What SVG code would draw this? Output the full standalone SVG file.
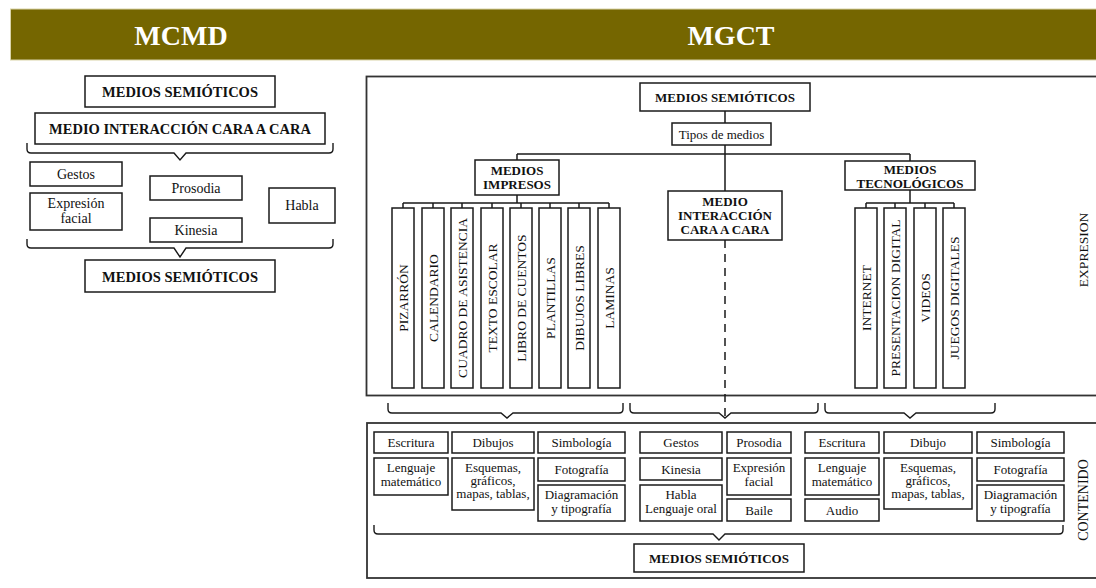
<svg xmlns="http://www.w3.org/2000/svg" width="1096" height="588" viewBox="0 0 1096 588" font-family="'Liberation Serif', 'DejaVu Serif', serif">
<style>
text{font-family:'Liberation Serif','DejaVu Serif',serif;fill:#111;}
.b{font-weight:bold;font-size:14.5px;text-anchor:middle;}
.bs{font-weight:bold;font-size:13px;text-anchor:middle;}
.r{font-size:14px;text-anchor:middle;}
.s{font-size:13px;text-anchor:middle;}
.v{font-size:13.5px;text-anchor:middle;}
.hd{font-weight:bold;font-size:28px;fill:#fff;text-anchor:middle;}
.box{fill:#fff;stroke:#1a1a1a;stroke-width:1.5;}
.frame{fill:none;stroke:#333;stroke-width:1.8;}
.ln{fill:none;stroke:#1a1a1a;stroke-width:1.5;}
.br{fill:none;stroke:#1a1a1a;stroke-width:1.4;}
</style>
<rect width="1096" height="588" fill="#fff"/>
<g id="header">
<rect x="10.5" y="9" width="1090" height="51" fill="#756600" stroke="#d9d3a8" stroke-width="1"/>
<text class="hd" x="181" y="45">MCMD</text>
<text class="hd" x="731" y="45">MGCT</text>
</g>
<g id="frames">
<rect class="frame" x="366.5" y="76.5" width="740" height="319"/>
<rect class="frame" x="367" y="423" width="740" height="155"/>
<text class="v" transform="translate(1083,250) rotate(-90)" dy="0.35em">EXPRESION</text>
<text class="v" style="font-size:14px" transform="translate(1083,500) rotate(-90)" dy="0.35em">CONTENIDO</text>
</g>
<g id="connectors">
<path class="br" d="M27 143 V149 Q27 153 31 153 H174 L180 160 L186 153 H329 Q333 153 333 149 V143"/>
<path class="br" d="M27 239 V244 Q27 248 31 248 H174 L180 257 L186 248 H329 Q333 248 333 244 V239"/>
<path class="ln" d="M725 111 V123 M725 145 V191 M517 154 H910 M517 154 V160 M910 154 V161"/>
<path class="ln" d="M517 195 V203 M403 203 H609 M403 203 V208 M433 203 V208 M462 203 V208 M492 203 V208 M521 203 V208 M550 203 V208 M579 203 V208 M609 203 V208"/>
<path class="ln" d="M910 190 V203 M866 203 H954 M866 203 V208 M895 203 V208 M925 203 V208 M954 203 V208"/>
<path class="ln" d="M725 240 V418" stroke-dasharray="8 6"/>
<path class="br" d="M388 403 V409 Q388 413 392 413 H501 L507 418 L513 413 H619 Q623 413 623 409 V403"/>
<path class="br" d="M630 403 V409 Q630 413 634 413 H719 L725 418 L731 413 H814 Q818 413 818 409 V403"/>
<path class="br" d="M825 403 V409 Q825 413 829 413 H904 L910 418 L916 413 H991 Q995 413 995 409 V403"/>
<path class="br" d="M374 525 V530 Q374 534 378 534 H713 L719 540 L725 534 H1059 Q1063 534 1063 530 V525"/>
</g>
<g id="mcmd-semioticos-top"><rect class="box" x="85" y="76" width="190" height="31"/><text class="b" x="180" y="97">MEDIOS SEMIÓTICOS</text></g>
<g id="mcmd-interaccion"><rect class="box" x="35" y="113" width="290" height="31"/><text class="b" x="180" y="134">MEDIO INTERACCIÓN CARA A CARA</text></g>
<g id="mcmd-gestos"><rect class="box" x="30" y="162" width="92" height="24"/><text class="r" x="76" y="179">Gestos</text></g>
<g id="mcmd-expresion"><rect class="box" x="30" y="193" width="92" height="37"/><text class="r" x="76" y="208">Expresión</text><text class="r" x="76" y="223">facial</text></g>
<g id="mcmd-prosodia"><rect class="box" x="150" y="176" width="92" height="24"/><text class="r" x="196" y="193">Prosodia</text></g>
<g id="mcmd-kinesia"><rect class="box" x="150" y="218" width="92" height="24"/><text class="r" x="196" y="235">Kinesia</text></g>
<g id="mcmd-habla"><rect class="box" x="269" y="188" width="66" height="35"/><text class="r" x="302" y="210">Habla</text></g>
<g id="mcmd-semioticos-bottom"><rect class="box" x="85" y="260" width="190" height="32"/><text class="b" x="180" y="281.5">MEDIOS SEMIÓTICOS</text></g>
<g id="mgct-semioticos"><rect class="box" x="640" y="83" width="170" height="28"/><text class="bs" x="725" y="101.5">MEDIOS SEMIÓTICOS</text></g>
<g id="tipos"><rect class="box" x="672" y="123" width="99" height="22"/><text class="s" x="721.5" y="138.5">Tipos de medios</text></g>
<g id="impresos"><rect class="box" x="475" y="160" width="84" height="35"/><text class="bs" x="517" y="175">MEDIOS</text><text class="bs" x="517" y="189">IMPRESOS</text></g>
<g id="interaccion"><rect class="box" x="668" y="191" width="114" height="49"/><text class="bs" x="725" y="206">MEDIO</text><text class="bs" x="725" y="220">INTERACCIÓN</text><text class="bs" x="725" y="234">CARA A CARA</text></g>
<g id="tecnologicos"><rect class="box" x="845" y="161" width="130" height="29"/><text class="bs" x="910" y="174">MEDIOS</text><text class="bs" x="910" y="188">TECNOLÓGICOS</text></g>
<g id="pizarron"><rect class="box" x="392" y="208" width="22" height="180"/><text class="v" transform="translate(403,298) rotate(-90)" dy="0.35em">PIZARRÓN</text></g>
<g id="calendario"><rect class="box" x="422" y="208" width="22" height="180"/><text class="v" transform="translate(433,298) rotate(-90)" dy="0.35em">CALENDARIO</text></g>
<g id="cuadro"><rect class="box" x="451" y="208" width="22" height="180"/><text class="v" transform="translate(462,298) rotate(-90)" dy="0.35em">CUADRO DE ASISTENCIA</text></g>
<g id="texto"><rect class="box" x="481" y="208" width="22" height="180"/><text class="v" transform="translate(492,298) rotate(-90)" dy="0.35em">TEXTO ESCOLAR</text></g>
<g id="libro"><rect class="box" x="510" y="208" width="22" height="180"/><text class="v" transform="translate(521,298) rotate(-90)" dy="0.35em">LIBRO DE CUENTOS</text></g>
<g id="plantillas"><rect class="box" x="539" y="208" width="22" height="180"/><text class="v" transform="translate(550,298) rotate(-90)" dy="0.35em">PLANTILLAS</text></g>
<g id="dibujos-libres"><rect class="box" x="568" y="208" width="22" height="180"/><text class="v" transform="translate(579,298) rotate(-90)" dy="0.35em">DIBUJOS LIBRES</text></g>
<g id="laminas"><rect class="box" x="598" y="208" width="22" height="180"/><text class="v" transform="translate(609,298) rotate(-90)" dy="0.35em">LAMINAS</text></g>
<g id="internet"><rect class="box" x="855" y="208" width="22" height="180"/><text class="v" transform="translate(866,298) rotate(-90)" dy="0.35em">INTERNET</text></g>
<g id="presentacion"><rect class="box" x="884" y="208" width="22" height="180"/><text class="v" transform="translate(895,298) rotate(-90)" dy="0.35em">PRESENTACION DIGITAL</text></g>
<g id="videos"><rect class="box" x="914" y="208" width="22" height="180"/><text class="v" transform="translate(925,298) rotate(-90)" dy="0.35em">VIDEOS</text></g>
<g id="juegos"><rect class="box" x="943" y="208" width="22" height="180"/><text class="v" transform="translate(954,298) rotate(-90)" dy="0.35em">JUEGOS DIGITALES</text></g>
<g id="c1-escritura"><rect class="box" x="374" y="432" width="74" height="21"/><text class="s" x="411" y="447">Escritura</text></g>
<g id="c1-dibujos"><rect class="box" x="452" y="432" width="82" height="21"/><text class="s" x="493" y="447">Dibujos</text></g>
<g id="c1-simbologia"><rect class="box" x="538" y="432" width="87" height="21"/><text class="s" x="581.5" y="447">Simbología</text></g>
<g id="c1-lenguaje"><rect class="box" x="374" y="458" width="74" height="37"/><text class="s" x="411" y="472">Lenguaje</text><text class="s" x="411" y="486">matemático</text></g>
<g id="c1-esquemas"><rect class="box" x="452" y="458" width="82" height="52"/><text class="s" x="493" y="472">Esquemas,</text><text class="s" x="493" y="485">gráficos,</text><text class="s" x="493" y="498">mapas, tablas,</text></g>
<g id="c1-fotografia"><rect class="box" x="538" y="458" width="87" height="23"/><text class="s" x="581.5" y="474">Fotografía</text></g>
<g id="c1-diagramacion"><rect class="box" x="538" y="485" width="87" height="36"/><text class="s" x="581.5" y="499">Diagramación</text><text class="s" x="581.5" y="513">y tipografía</text></g>
<g id="c2-gestos"><rect class="box" x="640" y="432" width="82" height="21"/><text class="s" x="681" y="447">Gestos</text></g>
<g id="c2-prosodia"><rect class="box" x="727" y="432" width="64" height="21"/><text class="s" x="759" y="447">Prosodia</text></g>
<g id="c2-kinesia"><rect class="box" x="640" y="458" width="82" height="22"/><text class="s" x="681" y="473.5">Kinesia</text></g>
<g id="c2-expresion"><rect class="box" x="727" y="458" width="64" height="37"/><text class="s" x="759" y="472">Expresión</text><text class="s" x="759" y="486">facial</text></g>
<g id="c2-habla"><rect class="box" x="640" y="485" width="82" height="36"/><text class="s" x="681" y="499">Habla</text><text class="s" x="681" y="513">Lenguaje oral</text></g>
<g id="c2-baile"><rect class="box" x="727" y="499" width="64" height="22"/><text class="s" x="759" y="514.5">Baile</text></g>
<g id="c3-escritura"><rect class="box" x="805" y="432" width="74" height="21"/><text class="s" x="842" y="447">Escritura</text></g>
<g id="c3-dibujo"><rect class="box" x="884" y="432" width="88" height="21"/><text class="s" x="928" y="447">Dibujo</text></g>
<g id="c3-simbologia"><rect class="box" x="977" y="432" width="87" height="21"/><text class="s" x="1020.5" y="447">Simbología</text></g>
<g id="c3-lenguaje"><rect class="box" x="805" y="458" width="74" height="37"/><text class="s" x="842" y="472">Lenguaje</text><text class="s" x="842" y="486">matemático</text></g>
<g id="c3-audio"><rect class="box" x="805" y="499" width="74" height="22"/><text class="s" x="842" y="514.5">Audio</text></g>
<g id="c3-esquemas"><rect class="box" x="884" y="458" width="88" height="51"/><text class="s" x="928" y="472">Esquemas,</text><text class="s" x="928" y="485">gráficos,</text><text class="s" x="928" y="498">mapas, tablas,</text></g>
<g id="c3-fotografia"><rect class="box" x="977" y="458" width="87" height="23"/><text class="s" x="1020.5" y="474">Fotografía</text></g>
<g id="c3-diagramacion"><rect class="box" x="977" y="485" width="87" height="36"/><text class="s" x="1020.5" y="499">Diagramación</text><text class="s" x="1020.5" y="513">y tipografía</text></g>
<g id="content-semioticos"><rect class="box" x="634" y="544" width="170" height="28"/><text class="bs" x="719" y="562.5">MEDIOS SEMIÓTICOS</text></g>
</svg>
